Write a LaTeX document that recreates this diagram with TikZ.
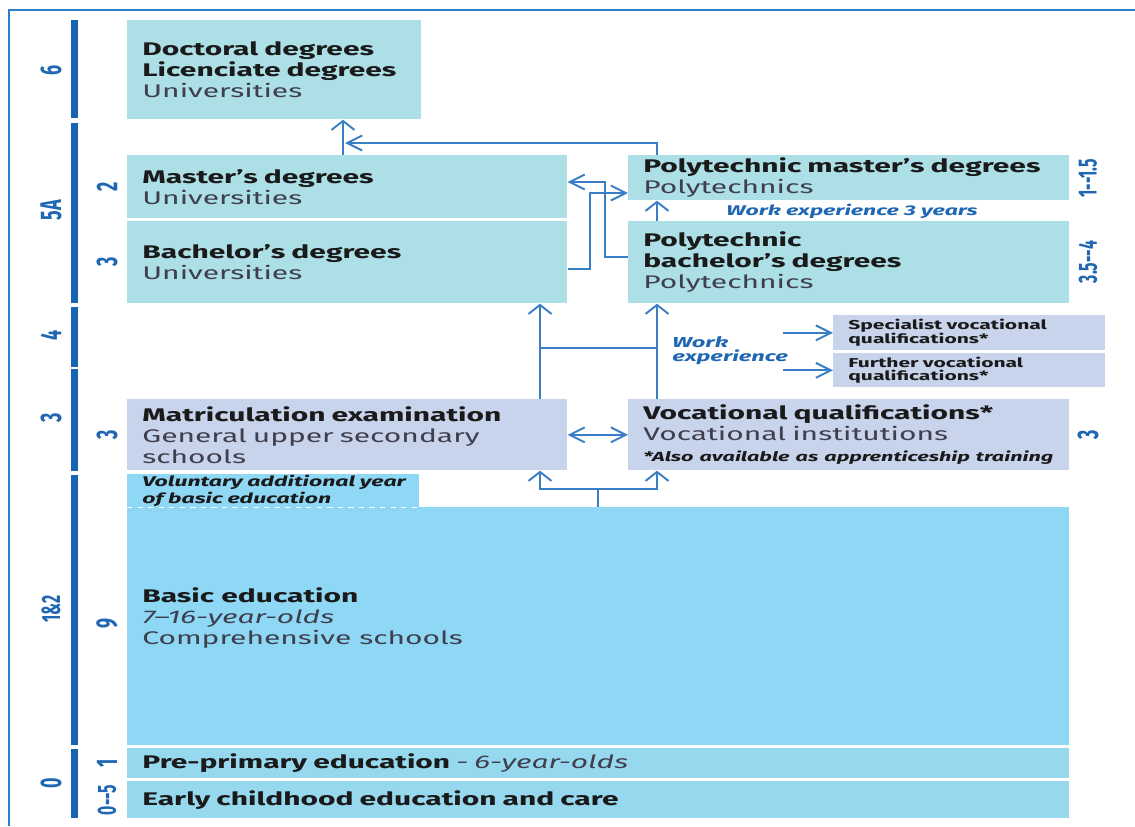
\documentclass[tikz,border=0pt]{standalone}
\usepackage{fontspec}
\setmainfont{Fira Sans}[FakeStretch=1.64]
\newfontfamily\sidefont{Fira Sans}[FakeStretch=0.6]
\usetikzlibrary{arrows.meta,positioning}
\definecolor{ink}{HTML}{1A1A1A}
\definecolor{subgray}{HTML}{3E3E4C}
\definecolor{frameblue}{HTML}{2F7FC8}
\definecolor{barblue}{HTML}{1565B0}
\definecolor{lineblue}{HTML}{3A7EC6}
\definecolor{labelblue}{HTML}{1F66B3}
\definecolor{unibg}{HTML}{ADDFE6}
\definecolor{vocbg}{HTML}{C8D3EC}
\definecolor{basicbg}{HTML}{8ED8F6}
\definecolor{earlybg}{HTML}{96D8EE}
\tikzset{
  edubox/.style={anchor=north west,inner xsep=0.3cm,inner ysep=0pt,align=left,
                 text=ink,font=\fontsize{10.4}{11.9}\selectfont},
  unibox/.style={edubox,fill=unibg},
  vocbox/.style={edubox,fill=vocbg},
  basicbox/.style={edubox,fill=basicbg},
  earlybox/.style={edubox,fill=earlybg},
  smallbox/.style={edubox,fill=vocbg,font=\fontsize{7.3}{7.6}\selectfont\bfseries},
  levelbar/.style={draw=barblue,line width=0.14cm},
  levellabel/.style={rotate=90,text=labelblue,inner sep=0pt,
                     font=\sidefont\fontsize{17}{18}\selectfont\bfseries},
  longlabel/.style={levellabel,font=\sidefont\fontsize{15}{16}\selectfont\bfseries},
  noteblue/.style={text=labelblue,inner sep=0pt,align=left,
                   font=\fontsize{8}{8}\selectfont\bfseries\itshape},
  flowline/.style={draw=lineblue,line width=1.1pt},
  uparr/.style={flowline,-{Straight Barb[length=1.8mm,width=4.6mm]}},
  sidearr/.style={flowline,-{Straight Barb[length=3mm,width=3mm]}},
  twoarr/.style={flowline,{Straight Barb[length=3mm,width=3mm]}-{Straight Barb[length=3mm,width=3mm]}}
}

\begin{document}
\begin{tikzpicture}[x=0.02cm,y=-0.02cm]
\useasboundingbox (0,0) rectangle (1135,826);
% frame
\draw[frameblue,line width=1pt] (1135,10) -- (9,10) -- (9,826);
% ISCED levels
\foreach \a/\b in {20/118,123/303,307/367,369/471,475/745,749/818}
  \draw[levelbar] (74,\a) -- (74,\b);
\node[levellabel] (lv6) at (51,70) {6};
\node[levellabel] (lv5a) at (51,210) {5A};
\node[levellabel] (lv4) at (51,335) {4};
\node[levellabel] (lv3) at (51,418) {3};
\node[longlabel] (lv12) at (51,609) {1\&2};
\node[levellabel] (lv0) at (51,783) {0};
% durations
\node[levellabel] (dmast) at (107,187) {2};
\node[levellabel] (dbach) at (107,262) {3};
\node[levellabel] (dmatr) at (107,435) {3};
\node[levellabel] (dbasic) at (107,623) {9};
\node[levellabel] (dpre) at (107,763) {1};
\node[longlabel] (dearly) at (107,800) {0--5};
\node[longlabel] (dpmast) at (1088,178) {1--1.5};
\node[longlabel] (dpbach) at (1088,262) {3.5--4};
\node[levellabel] (dvoc) at (1088,435) {3};
% universities
\node[unibox,minimum width=5.88cm,minimum height=1.98cm,text width=5.28cm] (doct) at (127,20)
  {\textbf{Doctoral degrees}\\ \textbf{Licenciate degrees}\\ {\color{subgray}Universities}};
\node[unibox,minimum width=8.8cm,minimum height=1.26cm,text width=8.2cm] (master) at (127,155)
  {\textbf{Master’s degrees}\\ {\color{subgray}Universities}};
\node[unibox,minimum width=8.8cm,minimum height=1.64cm,text width=8.2cm] (bach) at (127,221)
  {\textbf{Bachelor’s degrees}\\ {\color{subgray}Universities}};
% polytechnics
\node[unibox,minimum width=8.82cm,minimum height=0.9cm,text width=8.22cm] (pmast) at (628,155)
  {\textbf{Polytechnic master’s degrees}\\ {\color{subgray}Polytechnics}};
\node[unibox,minimum width=8.82cm,minimum height=1.64cm,text width=8.22cm] (pbach) at (628,221)
  {\textbf{Polytechnic}\\ \textbf{bachelor’s degrees}\\ {\color{subgray}Polytechnics}};
\node[noteblue] (wexp3) at (852,211) {Work experience 3 years};
% vocational
\node[smallbox,minimum width=5.44cm,minimum height=0.7cm,text width=4.84cm] (spec) at (833,315)
  {Specialist vocational\\ qualifications*};
\node[smallbox,minimum width=5.44cm,minimum height=0.68cm,text width=4.84cm] (furth) at (833,353)
  {Further vocational\\ qualifications*};
\node[noteblue,anchor=west,font=\fontsize{8.2}{8}\selectfont\bfseries\itshape] (wexp) at (672,351) {Work\\ experience};
\node[vocbox,minimum width=8.8cm,minimum height=1.42cm,text width=8.2cm] (matric) at (127,399)
  {\textbf{Matriculation examination}\\ {\color{subgray}General upper secondary}\\ {\color{subgray}schools}};
\node[vocbox,minimum width=8.82cm,minimum height=1.42cm,text width=8.22cm] (voc) at (628,399)
  {\textbf{Vocational qualifications*}\\ {\color{subgray}Vocational institutions}\\
   {\fontsize{7.5}{8}\selectfont\bfseries\itshape\mbox{*Also available as apprenticeship training}}};
% basic and early
\node[basicbox,minimum width=18.84cm,minimum height=4.76cm] (basic) at (127,507) {};
\node[basicbox,minimum width=5.84cm,minimum height=0.66cm,text width=5.24cm,
      font=\fontsize{8}{7.2}\selectfont\bfseries\itshape] (vol) at (127,474)
  {\mbox{Voluntary additional year}\\ \mbox{of basic education}};
\draw[white,dashed,line width=0.6pt] (vol.south west) -- (vol.south east);
\node[anchor=west,align=left,inner sep=0pt,text=ink,font=\fontsize{10.4}{11.9}\selectfont] (basictxt) at (142,618)
  {\textbf{Basic education}\\ {\color{subgray}\itshape 7--16-year-olds}\\ {\color{subgray}Comprehensive schools}};
\node[earlybox,minimum width=18.84cm,minimum height=0.6cm,text width=18.24cm] (pre) at (127,748)
  {\textbf{Pre-primary education} {\color{subgray}\itshape - 6-year-olds}};
\node[earlybox,minimum width=18.84cm,minimum height=0.74cm,text width=18.24cm] (early) at (127,781)
  {\textbf{Early childhood education and care}};
% connectors
\draw[uparr] (master.north -| 343,0) -- (doct.south -| 343,0);
\draw[sidearr] (pmast.north -| 657,0) |- (345,143);
\draw[sidearr] (pbach.west |- 0,257) -| (605,182) -- (master.east |- 0,182);
\draw[sidearr] (bach.east |- 0,269) -| (590,193) -- (pmast.west |- 0,193);
\draw[uparr] (pbach.north -| 657,0) -- (pmast.south -| 657,0);
\draw[uparr] (matric.north -| 540,0) -- (bach.south -| 540,0);
\draw[uparr] (voc.north -| 657,0) -- (pbach.south -| 657,0);
\draw[flowline] (540,348) -- (657,348);
\draw[sidearr] (spec.west -| 783,0) -- (spec.west);
\draw[sidearr] (furth.west -| 783,0) -- (furth.west);
\draw[twoarr] (matric.east) -- (voc.west);
\draw[flowline] (basic.north -| 598,0) -- (598,489);
\draw[uparr] (598,489) -| (matric.south -| 540,0);
\draw[uparr] (598,489) -| (voc.south -| 657,0);
\end{tikzpicture}
\end{document}
